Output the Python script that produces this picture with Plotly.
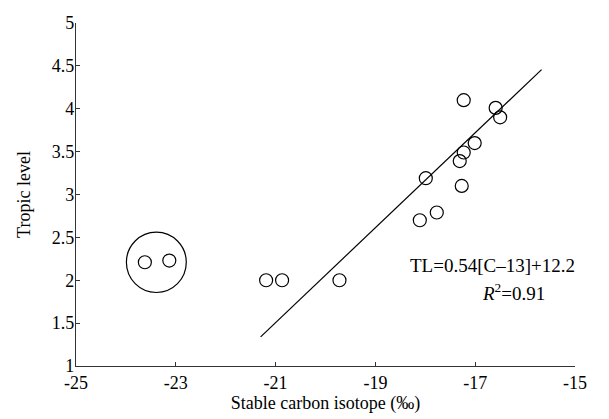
import plotly.graph_objects as go

# Data
carbon = [-23.62, -23.13, -21.19, -20.87, -19.72,
          -18.11, -17.77, -17.99, -17.31, -17.23, -17.27, -17.01,
          -17.23, -16.59, -16.50]
tropic = [2.21, 2.23, 2.00, 2.00, 2.00,
          2.70, 2.79, 3.19, 3.39, 3.49, 3.10, 3.60,
          4.10, 4.01, 3.90]

fit_x = [-21.3, -15.67]
fit_y = [1.34, 4.456]

# Outlier-group ring (data coords)
ring_x = [-23.99, -22.79]
ring_y = [1.857, 2.561]

x_ticks = [-25, -23, -21, -19, -17, -15]
y_ticks = [1, 1.5, 2, 2.5, 3, 3.5, 4, 4.5, 5]

FONT = "Liberation Serif"

fig = go.Figure()
fig.add_trace(go.Scatter(x=fit_x, y=fit_y, mode="lines",
                         line=dict(color="black", width=1.2),
                         showlegend=False, hoverinfo="skip"))
fig.add_trace(go.Scatter(x=carbon, y=tropic, mode="markers",
                         marker=dict(symbol="circle-open", size=13,
                                     color="black", line=dict(width=1.2)),
                         showlegend=False))

fig.add_shape(type="circle", xref="x", yref="y",
              x0=ring_x[0], x1=ring_x[1], y0=ring_y[0], y1=ring_y[1],
              line=dict(color="black", width=1.2))

fig.add_annotation(x=-16.66, y=2.17, xref="x", yref="y",
                   text="TL=0.54[C\u201313]+12.2", showarrow=False,
                   font=dict(family=FONT, size=19, color="black"))
fig.add_annotation(x=-16.24, y=1.86, xref="x", yref="y",
                   text="<i>R</i><sup>2</sup>=0.91", showarrow=False,
                   font=dict(family=FONT, size=19, color="black"))

fig.update_layout(
    width=609, height=419,
    margin=dict(l=76, r=34, t=23, b=49),
    paper_bgcolor="white", plot_bgcolor="white",
    font=dict(family=FONT, size=18, color="black"),
    xaxis=dict(range=[-25, -15], tickvals=x_ticks,
               ticktext=[str(v) for v in x_ticks],
               showgrid=False, zeroline=False,
               showline=True, linecolor="#333", linewidth=1.3,
               ticks="inside", ticklen=4, tickcolor="#333",
               title=dict(text="Stable carbon isotope (\u2030)", standoff=2,
                          font=dict(family=FONT, size=18)),
               tickfont=dict(family=FONT, size=18)),
    yaxis=dict(range=[1, 5], tickvals=y_ticks,
               ticktext=[("%g" % v) for v in y_ticks],
               showgrid=False, zeroline=False,
               showline=True, linecolor="#333", linewidth=1.3,
               ticks="inside", ticklen=4, tickcolor="#333",
               ticklabelstandoff=-3,
               title=dict(text="Tropic level", standoff=16,
                          font=dict(family=FONT, size=18)),
               tickfont=dict(family=FONT, size=18)),
)

fig.write_html("out.html")
